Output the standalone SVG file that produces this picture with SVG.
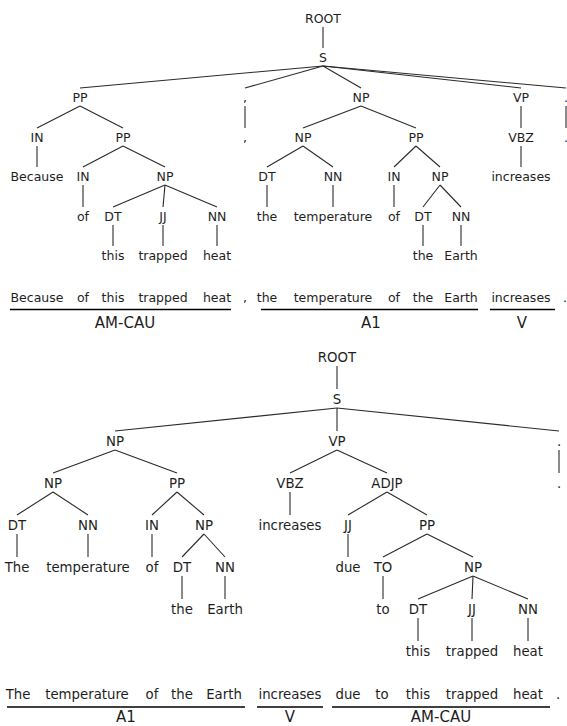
<svg xmlns="http://www.w3.org/2000/svg" width="567" height="726" viewBox="0 0 567 726">
<style>
text{font-family:"DejaVu Sans","Liberation Sans",sans-serif;fill:#1e1e1e;text-anchor:middle}
.t{font-size:12.5px}
.b{font-size:13.3px}
.role{font-family:"Liberation Sans",Arial,sans-serif;fill:#000}
.rt{font-size:15px}
.rb{font-size:15px}
.e line{stroke:#2a2a2a;stroke-width:1.1}
.u line{stroke:#000;stroke-width:1.6}
</style>
<rect width="567" height="726" fill="#fff"/>

<!-- ===== Top tree connectors ===== -->
<g id="connectors-top" class="e">
<line x1="323" y1="27" x2="323" y2="48"/>
<line x1="323" y1="66" x2="80" y2="88"/>
<line x1="323" y1="66" x2="245" y2="88"/>
<line x1="323" y1="66" x2="361" y2="88"/>
<line x1="323" y1="66" x2="521" y2="88"/>
<line x1="323" y1="66" x2="566" y2="88"/>
<line x1="80" y1="106" x2="37" y2="128"/>
<line x1="80" y1="106" x2="123" y2="128"/>
<line x1="245" y1="106" x2="245" y2="128"/>
<line x1="361" y1="106" x2="303" y2="128"/>
<line x1="361" y1="106" x2="416" y2="128"/>
<line x1="521" y1="106" x2="521" y2="128"/>
<line x1="566" y1="106" x2="566" y2="128"/>
<line x1="37" y1="146" x2="37" y2="167"/>
<line x1="123" y1="146" x2="83" y2="167"/>
<line x1="123" y1="146" x2="165" y2="167"/>
<line x1="303" y1="146" x2="267" y2="167"/>
<line x1="303" y1="146" x2="333" y2="167"/>
<line x1="416" y1="146" x2="394" y2="167"/>
<line x1="416" y1="146" x2="440" y2="167"/>
<line x1="521" y1="146" x2="521" y2="167"/>
<line x1="83" y1="185" x2="83" y2="207"/>
<line x1="165" y1="185" x2="113" y2="207"/>
<line x1="165" y1="185" x2="163" y2="207"/>
<line x1="165" y1="185" x2="217" y2="207"/>
<line x1="267" y1="185" x2="267" y2="207"/>
<line x1="333" y1="185" x2="333" y2="207"/>
<line x1="394" y1="185" x2="394" y2="207"/>
<line x1="440" y1="185" x2="423" y2="207"/>
<line x1="440" y1="185" x2="461" y2="207"/>
<line x1="113" y1="225" x2="113" y2="246"/>
<line x1="163" y1="225" x2="163" y2="246"/>
<line x1="217" y1="225" x2="217" y2="246"/>
<line x1="423" y1="225" x2="423" y2="246"/>
<line x1="461" y1="225" x2="461" y2="246"/>
</g>

<!-- ===== Top tree nodes ===== -->
<g class="t">
<g id="t-root"><text x="323" y="23">ROOT</text></g>
<g id="t-s"><text x="323" y="62">S</text></g>
<g id="t-pp1"><text x="80" y="102">PP</text></g>
<g id="t-comma-pos"><text x="245" y="102">,</text></g>
<g id="t-np1"><text x="361" y="102">NP</text></g>
<g id="t-vp"><text x="521" y="102">VP</text></g>
<g id="t-period-pos"><text x="566" y="102">.</text></g>
<g id="t-in1"><text x="37" y="142">IN</text></g>
<g id="t-pp2"><text x="123" y="142">PP</text></g>
<g id="t-comma-w"><text x="245" y="142">,</text></g>
<g id="t-np2"><text x="303" y="142">NP</text></g>
<g id="t-pp3"><text x="416" y="142">PP</text></g>
<g id="t-vbz"><text x="521" y="142">VBZ</text></g>
<g id="t-period-w"><text x="566" y="142">.</text></g>
<g id="t-because"><text x="37" y="181">Because</text></g>
<g id="t-in2"><text x="83" y="181">IN</text></g>
<g id="t-np3"><text x="165" y="181">NP</text></g>
<g id="t-dt1"><text x="267" y="181">DT</text></g>
<g id="t-nn1"><text x="333" y="181">NN</text></g>
<g id="t-in3"><text x="394" y="181">IN</text></g>
<g id="t-np4"><text x="440" y="181">NP</text></g>
<g id="t-increases"><text x="521" y="181">increases</text></g>
<g id="t-of1"><text x="83" y="221">of</text></g>
<g id="t-dt2"><text x="113" y="221">DT</text></g>
<g id="t-jj1"><text x="163" y="221">JJ</text></g>
<g id="t-nn2"><text x="217" y="221">NN</text></g>
<g id="t-the1"><text x="267" y="221">the</text></g>
<g id="t-temperature"><text x="333" y="221">temperature</text></g>
<g id="t-of2"><text x="394" y="221">of</text></g>
<g id="t-dt3"><text x="423" y="221">DT</text></g>
<g id="t-nn3"><text x="461" y="221">NN</text></g>
<g id="t-this"><text x="113" y="260">this</text></g>
<g id="t-trapped"><text x="163" y="260">trapped</text></g>
<g id="t-heat"><text x="217" y="260">heat</text></g>
<g id="t-the2"><text x="423" y="260">the</text></g>
<g id="t-earth"><text x="461" y="260">Earth</text></g>
</g>

<!-- Top sentence row -->
<g id="t-sentence" class="t">
<text x="37" y="302">Because</text><text x="83" y="302">of</text><text x="113" y="302">this</text><text x="163" y="302">trapped</text><text x="217" y="302">heat</text><text x="245" y="302">,</text><text x="267" y="302">the</text><text x="333" y="302">temperature</text><text x="394" y="302">of</text><text x="423" y="302">the</text><text x="461" y="302">Earth</text><text x="521" y="302">increases</text><text x="565" y="302">.</text>
</g>
<g id="t-spans" class="u">
<line x1="10" y1="309.5" x2="231" y2="309.5"/>
<line x1="261" y1="309.5" x2="478" y2="309.5"/>
<line x1="490" y1="309.5" x2="555" y2="309.5"/>
</g>
<g id="t-roles" class="role rt">
<text x="125" y="328">AM-CAU</text><text x="371" y="328">A1</text><text x="522" y="328">V</text>
</g>

<!-- ===== Bottom tree connectors ===== -->
<g id="connectors-bottom" class="e">
<line x1="337" y1="366" x2="337" y2="389"/>
<line x1="337" y1="408" x2="115" y2="431"/>
<line x1="337" y1="408" x2="337" y2="431"/>
<line x1="337" y1="408" x2="559" y2="431"/>
<line x1="115" y1="450" x2="53" y2="473"/>
<line x1="115" y1="450" x2="177" y2="473"/>
<line x1="337" y1="450" x2="290" y2="473"/>
<line x1="337" y1="450" x2="387" y2="473"/>
<line x1="559" y1="450" x2="559" y2="473"/>
<line x1="53" y1="492" x2="17" y2="515"/>
<line x1="53" y1="492" x2="88" y2="515"/>
<line x1="177" y1="492" x2="152" y2="515"/>
<line x1="177" y1="492" x2="204" y2="515"/>
<line x1="290" y1="492" x2="290" y2="515"/>
<line x1="387" y1="492" x2="348" y2="515"/>
<line x1="387" y1="492" x2="427" y2="515"/>
<line x1="17" y1="534" x2="17" y2="557"/>
<line x1="88" y1="534" x2="88" y2="557"/>
<line x1="152" y1="534" x2="152" y2="557"/>
<line x1="204" y1="534" x2="182" y2="557"/>
<line x1="204" y1="534" x2="225" y2="557"/>
<line x1="348" y1="534" x2="348" y2="557"/>
<line x1="427" y1="534" x2="383" y2="557"/>
<line x1="427" y1="534" x2="473" y2="557"/>
<line x1="182" y1="576" x2="182" y2="599"/>
<line x1="225" y1="576" x2="225" y2="599"/>
<line x1="383" y1="576" x2="383" y2="599"/>
<line x1="473" y1="576" x2="418" y2="599"/>
<line x1="473" y1="576" x2="472" y2="599"/>
<line x1="473" y1="576" x2="528" y2="599"/>
<line x1="418" y1="618" x2="418" y2="641"/>
<line x1="472" y1="618" x2="472" y2="641"/>
<line x1="528" y1="618" x2="528" y2="641"/>
</g>

<!-- ===== Bottom tree nodes ===== -->
<g class="b">
<g id="b-root"><text x="337" y="362">ROOT</text></g>
<g id="b-s"><text x="337" y="404">S</text></g>
<g id="b-np1"><text x="115" y="446">NP</text></g>
<g id="b-vp"><text x="337" y="446">VP</text></g>
<g id="b-period-pos"><text x="559" y="446">.</text></g>
<g id="b-np2"><text x="53" y="488">NP</text></g>
<g id="b-pp1"><text x="177" y="488">PP</text></g>
<g id="b-vbz"><text x="290" y="488">VBZ</text></g>
<g id="b-adjp"><text x="387" y="488">ADJP</text></g>
<g id="b-period-w"><text x="559" y="488">.</text></g>
<g id="b-dt1"><text x="17" y="530">DT</text></g>
<g id="b-nn1"><text x="88" y="530">NN</text></g>
<g id="b-in1"><text x="152" y="530">IN</text></g>
<g id="b-np3"><text x="204" y="530">NP</text></g>
<g id="b-increases"><text x="290" y="530">increases</text></g>
<g id="b-jj1"><text x="348" y="530">JJ</text></g>
<g id="b-pp2"><text x="427" y="530">PP</text></g>
<g id="b-the1"><text x="17" y="572">The</text></g>
<g id="b-temperature"><text x="88" y="572">temperature</text></g>
<g id="b-of"><text x="152" y="572">of</text></g>
<g id="b-dt2"><text x="182" y="572">DT</text></g>
<g id="b-nn2"><text x="225" y="572">NN</text></g>
<g id="b-due"><text x="348" y="572">due</text></g>
<g id="b-to-pos"><text x="383" y="572">TO</text></g>
<g id="b-np4"><text x="473" y="572">NP</text></g>
<g id="b-the2"><text x="182" y="614">the</text></g>
<g id="b-earth"><text x="225" y="614">Earth</text></g>
<g id="b-to"><text x="383" y="614">to</text></g>
<g id="b-dt3"><text x="418" y="614">DT</text></g>
<g id="b-jj2"><text x="472" y="614">JJ</text></g>
<g id="b-nn3"><text x="528" y="614">NN</text></g>
<g id="b-this"><text x="418" y="656">this</text></g>
<g id="b-trapped"><text x="472" y="656">trapped</text></g>
<g id="b-heat"><text x="528" y="656">heat</text></g>
</g>

<!-- Bottom sentence row -->
<g id="b-sentence" class="b">
<text x="18" y="699">The</text><text x="87" y="699">temperature</text><text x="152" y="699">of</text><text x="182" y="699">the</text><text x="224" y="699">Earth</text><text x="290" y="699">increases</text><text x="348" y="699">due</text><text x="382" y="699">to</text><text x="418" y="699">this</text><text x="472" y="699">trapped</text><text x="528" y="699">heat</text><text x="558" y="699">.</text>
</g>
<g id="b-spans" class="u">
<line x1="7" y1="707" x2="245" y2="707"/>
<line x1="257" y1="707" x2="323" y2="707"/>
<line x1="332" y1="707" x2="550" y2="707"/>
</g>
<g id="b-roles" class="role rb">
<text x="126" y="722">A1</text><text x="290" y="722">V</text><text x="441" y="722">AM-CAU</text>
</g>
</svg>
